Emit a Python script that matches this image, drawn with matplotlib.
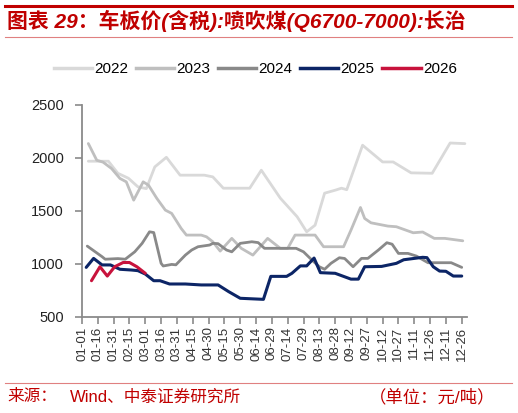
import matplotlib
matplotlib.use("Agg")
import matplotlib.pyplot as plt
from matplotlib.lines import Line2D

plt.rcParams['font.family'] = ['Liberation Sans', 'Noto Sans CJK SC', 'DejaVu Sans']

# ---- data (x = day index within year, 0 = 01-01) ----
days_2022 = [6, 25, 34, 44, 53, 61, 69, 80, 93, 116, 124, 134, 159, 170, 188, 204, 213, 221, 230, 240, 246, 251, 266, 285, 295, 312, 332, 349, 363]
vals_2022 = [1969, 1969, 1855, 1808, 1727, 1710, 1915, 2006, 1837, 1837, 1821, 1714, 1714, 1884, 1620, 1444, 1302, 1365, 1667, 1695, 1714, 1700, 2120, 1962, 1962, 1859, 1855, 2141, 2135]

days_2023 = [6, 14, 20, 28, 36, 42, 49, 58, 63, 71, 79, 85, 94, 99, 113, 118, 124, 131, 142, 151, 162, 176, 188, 195, 202, 221, 229, 248, 255, 264, 268, 274, 290, 298, 314, 323, 334, 344, 361]
vals_2023 = [2136, 1978, 1960, 1900, 1806, 1774, 1601, 1774, 1743, 1617, 1507, 1476, 1334, 1271, 1271, 1255, 1208, 1120, 1240, 1146, 1082, 1240, 1146, 1146, 1271, 1271, 1161, 1161, 1318, 1532, 1428, 1387, 1356, 1350, 1293, 1300, 1240, 1240, 1217]

days_2024 = [5, 19, 22, 34, 41, 50, 57, 64, 68, 75, 77, 85, 89, 98, 104, 110, 121, 124, 129, 137, 142, 150, 161, 167, 173, 203, 210, 218, 225, 230, 236, 244, 249, 257, 265, 271, 281, 289, 294, 300, 309, 317, 328, 350, 360]
vals_2024 = [1167, 1067, 1043, 1049, 1043, 1113, 1193, 1302, 1295, 1004, 979, 994, 990, 1082, 1130, 1161, 1177, 1193, 1190, 1130, 1113, 1193, 1208, 1200, 1146, 1146, 1113, 1035, 972, 948, 1004, 1057, 1050, 972, 1051, 1051, 1130, 1199, 1185, 1098, 1098, 1073, 1010, 1010, 966]

days_2025 = [4, 11, 19, 27, 36, 47, 53, 60, 68, 74, 83, 98, 113, 129, 139, 150, 172, 179, 194, 199, 207, 213, 220, 226, 240, 255, 262, 268, 284, 298, 305, 323, 327, 333, 339, 345, 352, 360]
vals_2025 = [966, 1051, 989, 989, 948, 941, 935, 903, 840, 840, 809, 809, 800, 800, 737, 674, 664, 881, 881, 910, 980, 980, 1054, 916, 910, 855, 855, 972, 975, 1004, 1038, 1061, 1058, 972, 931, 929, 884, 884]

days_2026 = [9, 17, 24, 31, 39, 45, 52, 60]
vals_2026 = [840, 972, 884, 972, 1012, 1012, 972, 910]

series_names = ['2022', '2023', '2024', '2025', '2026']
tick_labels = ['01-01', '01-16', '01-31', '02-15', '03-01', '03-16', '03-31', '04-15', '04-30',
               '05-15', '05-30', '06-14', '06-29', '07-14', '07-29', '08-13', '08-28', '09-12',
               '09-27', '10-12', '10-27', '11-11', '11-26', '12-11', '12-26']
y_ticks = [500, 1000, 1500, 2000, 2500]

colors = ['#d9d9d9', '#bfbfbf', '#898989', '#0c2566', '#c8133c']
widths = [2.0, 2.0, 2.0, 2.2, 2.2]

fig = plt.figure(figsize=(5.18, 4.13), dpi=100)
ax = fig.add_axes([82/518, 1-316.7/413, (467-82)/518, (316.7-105)/413])

data = [(days_2022, vals_2022), (days_2023, vals_2023), (days_2024, vals_2024),
        (days_2025, vals_2025), (days_2026, vals_2026)]
for (d, v), c, w, n in zip(data, colors, widths, series_names):
    ax.plot(d, v, color=c, lw=w, solid_joinstyle='round', solid_capstyle='round', label=n)

ax.set_xlim(0, 365)
ax.set_ylim(500, 2500)
ax.set_yticks(y_ticks)
ax.set_yticklabels([str(t) for t in y_ticks], fontsize=10.5, color='#222222')
ax.set_xticks([i * 15 for i in range(len(tick_labels))])
ax.set_xticklabels(tick_labels, rotation=90, fontsize=9.5, color='#333333')

for s in ['top', 'right']:
    ax.spines[s].set_visible(False)
for s in ['left', 'bottom']:
    ax.spines[s].set_color('#8a8a8a')
    ax.spines[s].set_linewidth(1.3)
ax.tick_params(axis='both', color='#8a8a8a', width=1.2, length=5, direction='out')
ax.tick_params(axis='y', pad=8)
ax.tick_params(axis='x', pad=2)

handles = [Line2D([0], [0], color=c, lw=2.5) for c in colors]
fig.legend(handles, series_names, loc='center', bbox_to_anchor=(0.493, 1-69/413), ncol=5,
           frameon=False, fontsize=11, handlelength=2.5, handletextpad=0.15, columnspacing=0.5)

# decorations
fig.add_artist(Line2D([5/518, 512/518], [1-6/413, 1-6/413], color='#c00000', lw=2.2))
fig.add_artist(Line2D([5/518, 512/518], [1-37/413, 1-37/413], color='#e08080', lw=0.8))
fig.add_artist(Line2D([5/518, 512/518], [1-383/413, 1-383/413], color='#e08080', lw=0.8))

fig.text(7/518, 1-21/413, '图表 29：车板价(含税):喷吹煤(Q6700-7000):长治', color='#c00000',
         fontsize=15, fontweight='bold', fontstyle='italic', va='center', ha='left')
fig.text(7/518, 1-397/413, '来源：', color='#c00000', fontsize=12, va='center', ha='left')
fig.text(70/518, 1-397/413, 'Wind、中泰证券研究所', color='#c00000', fontsize=12,
         va='center', ha='left')
fig.text(495/518, 1-397/413, '（单位：元/吨）', color='#c00000', fontsize=12.5,
         va='center', ha='right')

fig.savefig('out.png', dpi=100)
